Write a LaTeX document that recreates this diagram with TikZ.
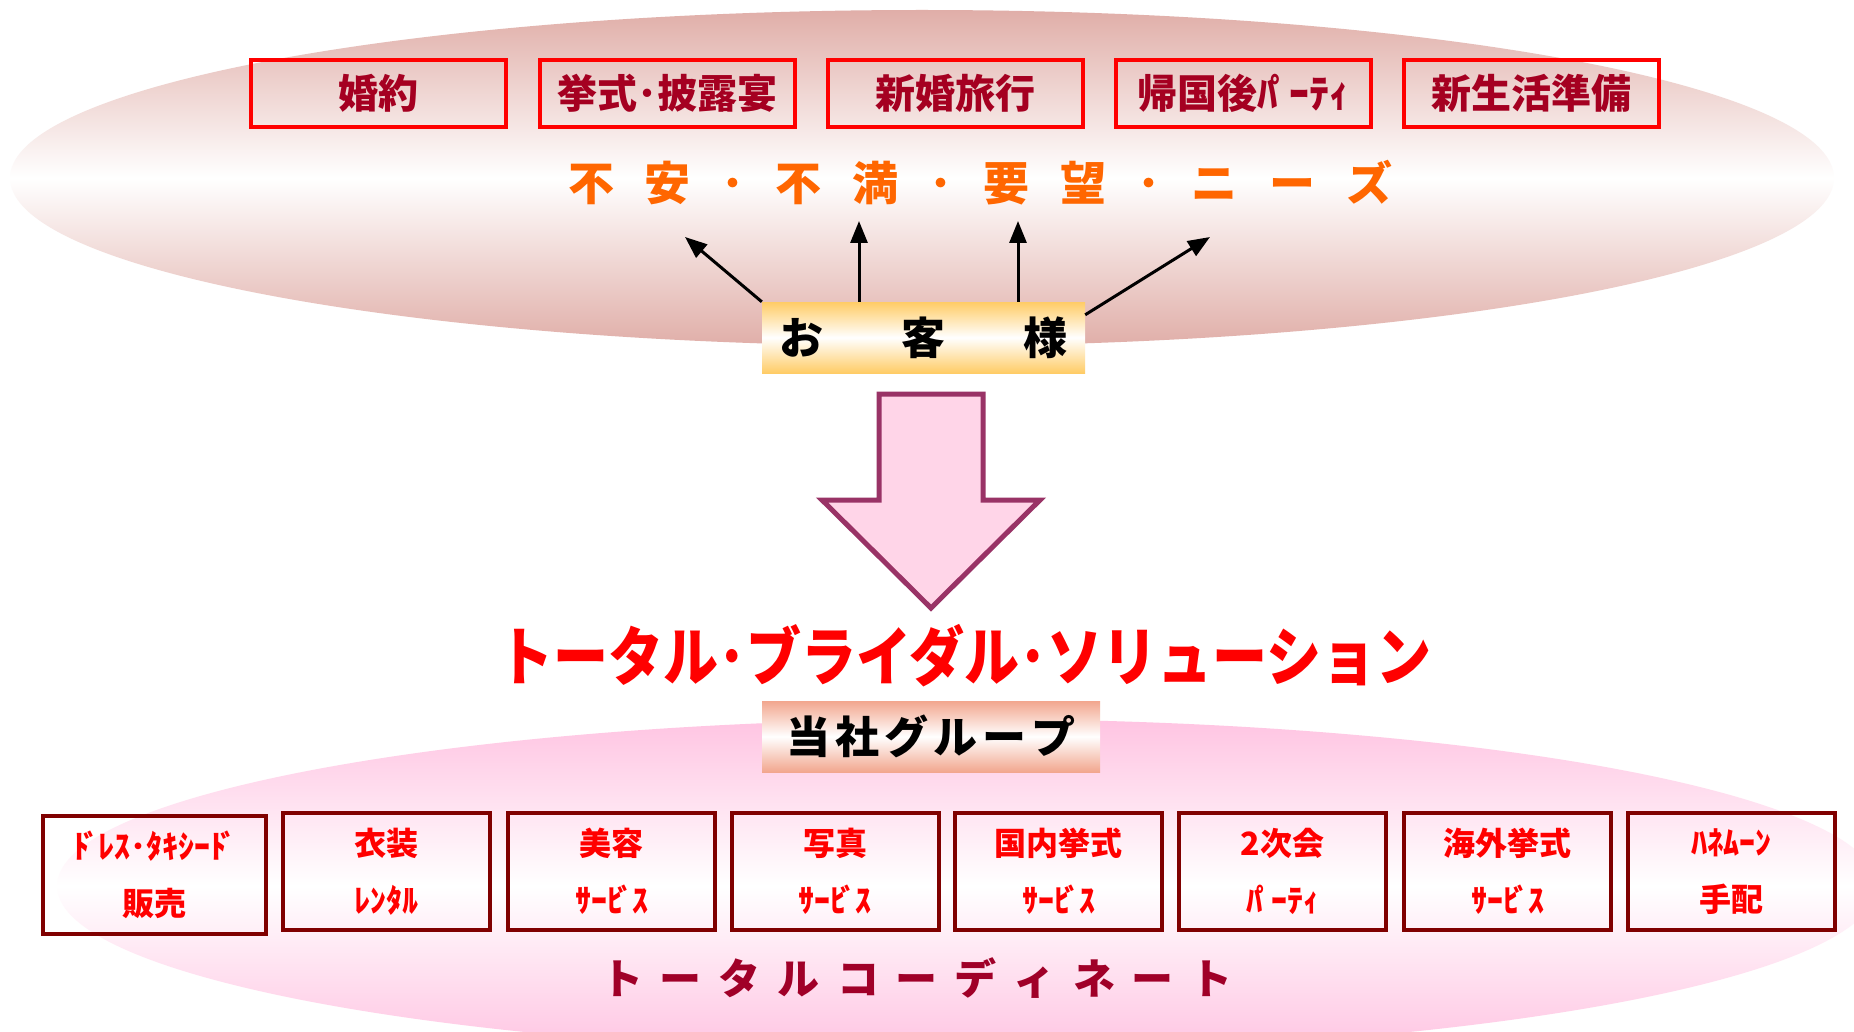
\documentclass[tikz,border=0pt]{standalone}
\usepackage{fontspec}
\usepackage{graphicx}
\newfontfamily\jp{Noto Sans CJK JP}
\usetikzlibrary{arrows.meta}
\definecolor{topell}{RGB}{224,174,168}
\definecolor{botell}{RGB}{255,196,226}
\definecolor{boxred}{RGB}{255,0,0}
\definecolor{toptext}{RGB}{165,0,33}
\definecolor{orangetext}{RGB}{255,102,0}
\definecolor{darkbox}{RGB}{128,0,0}
\definecolor{kyakucol}{RGB}{255,204,102}
\definecolor{groupcol}{RGB}{242,166,142}
\definecolor{arrowline}{RGB}{153,51,102}
\definecolor{arrowfill}{RGB}{255,213,232}
\definecolor{coordcol}{RGB}{160,0,40}
\newcommand\ksA{\kern31pt}
\newcommand\ksB{\kern17pt}
\newcommand\ksC{\kern78pt}
\newcommand\ksD{\kern5pt}
\newcommand\dkA{\kern-6ptﾞ\kern-1pt}
\newcommand\hdkA{\kern-6ptﾟ\kern-1pt}
\newcommand\hdkB{\kern-7ptﾟ\kern-1pt}
\begin{document}
\begin{tikzpicture}[x=1pt,y=-1pt,
  topbox/.style={draw=boxred, line width=4pt, minimum width=255pt, minimum height=67pt,
    inner sep=0pt, text=toptext, font=\jp\bfseries\fontsize{40}{44}\selectfont},
  botbox/.style={draw=darkbox, line width=4pt, minimum width=207pt, minimum height=117pt,
    inner sep=0pt, text=boxred, align=center, font=\jp\bfseries\fontsize{32}{57}\selectfont},
  bandbox/.style={inner sep=0pt, font=\jp\bfseries\fontsize{44}{50}\selectfont, text=black},
  needarrow/.style={line width=3pt, -{Triangle[length=22pt,width=17pt]}},
]
\useasboundingbox (0,0) rectangle (1854,1032);
\clip (0,0) rectangle (1854,1032);
\fill[white] (0,0) rectangle (1854,1032);

% ellipses
\path[top color=topell, bottom color=topell, middle color=white]
  (922,178) ellipse [x radius=912pt, y radius=168pt];
\path[top color=botell, bottom color=botell, middle color=white]
  (967,886) ellipse [x radius=910pt, y radius=167pt];

% top boxes
\node[topbox] (b1) at (378.5,93.5) {婚約};
\node[topbox] (b2) at (667,93.5) {挙式･披露宴};
\node[topbox] (b3) at (955,93.5) {新婚旅行};
\node[topbox] (b4) at (1243,93.5) {帰国後ﾊ\hdkB ｰﾃｨ};
\node[topbox] (b5) at (1531.5,93.5) {新生活準備};

% needs line
\node[inner sep=0pt, text=orangetext, font=\jp\bfseries\fontsize{46}{50}\selectfont] (needs) at (980,183)
  {不\ksA 安\ksA ･\ksA 不\ksA 満\ksA ･\ksA 要\ksA 望\ksA ･\ksA ニ\ksA ー\ksA ズ};

% customer box
\node[bandbox, minimum width=323pt, minimum height=71pt,
  top color=kyakucol, bottom color=kyakucol, middle color=white] (kyaku) at (923.5,337.5)
  {お\ksC 客\ksC 様};

\coordinate (t1) at (685,237);
\coordinate (t2) at (859,221);
\coordinate (t3) at (1018,221);
\coordinate (t4) at (1210,237);
\draw[needarrow] (kyaku.north west) -- (t1);
\draw[needarrow] (kyaku.north -| t2) -- (t2);
\draw[needarrow] (kyaku.north -| t3) -- (t3);
\draw[needarrow] ([yshift=-13pt]kyaku.north east) -- (t4);

% big arrow
\draw[draw=arrowline, fill=arrowfill, line width=5pt, line join=miter]
  (879,394) -- (983,394) -- (983,500) -- (1040,500) -- (931,608) -- (822,500) -- (879,500) -- cycle;

% title
\node[inner sep=0pt, text=boxred, font=\jp\bfseries\fontsize{64}{70}\selectfont] (title) at (965,656)
  {\scalebox{0.86}[1]{トータル･ブライダル･ソリューション}};

% group box
\node[bandbox, minimum width=338pt, minimum height=71pt,
  top color=groupcol, bottom color=groupcol, middle color=white] (group) at (931,736.5)
  {当\ksD 社\ksD グ\ksD ル\ksD ー\ksD プ};

% bottom boxes
\node[botbox, minimum width=223pt, minimum height=118pt] (s1) at (154.5,875) {ﾄ\dkA ﾚｽ･ﾀｷｼｰﾄ\dkA\\販売};
\node[botbox] (s2) at (386.5,871.5) {衣装\\ﾚﾝﾀﾙ};
\node[botbox] (s3) at (611.5,871.5) {美容\\ｻｰﾋ\dkA ｽ};
\node[botbox] (s4) at (835,871.5) {写真\\ｻｰﾋ\dkA ｽ};
\node[botbox] (s5) at (1058.5,871.5) {国内挙式\\ｻｰﾋ\dkA ｽ};
\node[botbox] (s6) at (1282.5,871.5) {2次会\\ﾊ\hdkA ｰﾃｨ};
\node[botbox] (s7) at (1507.5,871.5) {海外挙式\\ｻｰﾋ\dkA ｽ};
\node[botbox] (s8) at (1731.5,871.5) {ﾊﾈﾑｰﾝ\\手配};

% coordinate line
\node[inner sep=0pt, text=coordcol, font=\jp\bfseries\fontsize{42}{48}\selectfont] (coord) at (917,978)
  {ト\ksB ー\ksB タ\ksB ル\ksB コ\ksB ー\ksB デ\ksB ィ\ksB ネ\ksB ー\ksB ト};
\end{tikzpicture}
\end{document}
